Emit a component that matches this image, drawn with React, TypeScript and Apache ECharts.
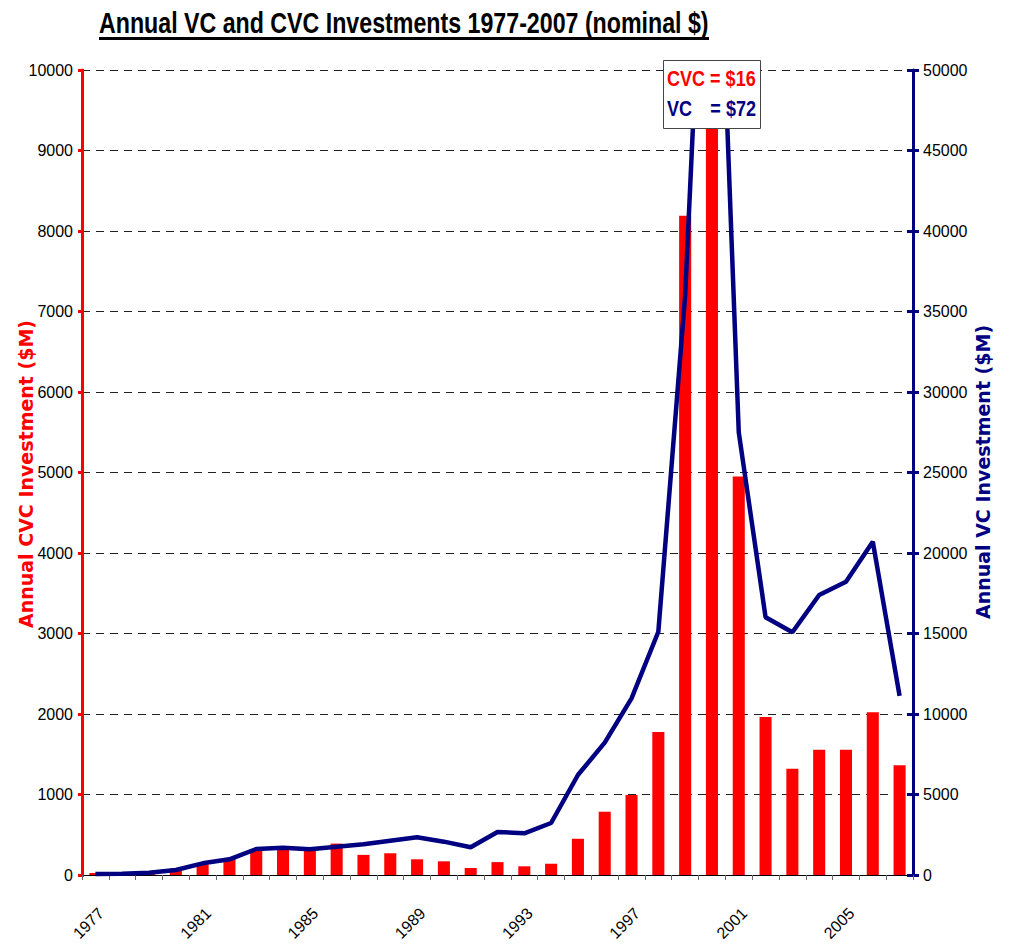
import React, { useEffect, useRef } from "react";
import * as echarts from "echarts";

const years = [
  "1977", "1978", "1979", "1980", "1981", "1982", "1983", "1984", "1985", "1986",
  "1987", "1988", "1989", "1990", "1991", "1992", "1993", "1994", "1995", "1996",
  "1997", "1998", "1999", "2000", "2001", "2002", "2003", "2004", "2005", "2006", "2007",
];

// Annual CVC investment ($M) – left axis
const cvcValues = [
  25, 20, 25, 80, 130, 200, 320, 330, 320, 390,
  250, 270, 195, 170, 87, 160, 108, 140, 450, 786,
  994, 1776, 8190, 16000, 4950, 1963, 1320, 1557, 1557, 2021, 1363,
];

// Annual VC investment ($M) – right axis
const vcValues = [
  60, 80, 140, 310, 725, 975, 1615, 1700, 1595, 1760,
  1905, 2130, 2340, 2070, 1720, 2670, 2590, 3230, 6210, 8220,
  10975, 15110, 36000, 72000, 27500, 16010, 15075, 17390, 18220, 20700, 11120,
];

const titleText = "Annual VC and CVC Investments 1977-2007 (nominal $)";
const leftAxisName = "Annual CVC Investment ($M)";
const rightAxisName = "Annual VC Investment ($M)";
const cvcNote = "CVC = $16";
const vcNoteLabel = "VC";
const vcNoteValue = "= $72";

const SANS = "'Liberation Sans', Arial, sans-serif";
const RED = "#ff0000";
const NAVY = "#000080";

export default function App() {
  const ref = useRef<HTMLDivElement>(null);

  useEffect(() => {
    document.body.style.margin = "0";
    const chart = echarts.init(ref.current!, null, { renderer: "svg" });

    const labelStyle = {
      color: "#000",
      fontSize: 16,
      fontFamily: SANS,
      formatter: (v: any) => String(v),
    };

    const option: any = {
      animation: false,
      grid: { left: 82, right: 96, top: 70, bottom: 70, containLabel: false },
      xAxis: {
        type: "category",
        data: years,
        boundaryGap: true,
        axisLine: { show: true, lineStyle: { color: "#000", width: 1 } },
        axisTick: { show: true, interval: 0, length: 5, lineStyle: { color: "#666", width: 1 } },
        axisLabel: {
          color: "#000",
          fontSize: 16,
          fontFamily: SANS,
          interval: 3,
          rotate: 45,
          margin: 30,
          align: "right",
          verticalAlign: "top",
        },
        splitLine: { show: false },
      },
      yAxis: [
        {
          type: "value",
          min: 0,
          max: 10000,
          interval: 1000,
          position: "left",
          axisLine: { show: true, lineStyle: { color: RED, width: 3 } },
          axisTick: { show: true, length: 4, lineStyle: { color: RED, width: 3 } },
          axisLabel: { ...labelStyle, margin: 9 },
          splitLine: { show: true, lineStyle: { color: "#222", width: 1, type: [8, 6] } },
        },
        {
          type: "value",
          min: 0,
          max: 50000,
          interval: 5000,
          position: "right",
          axisLine: { show: true, lineStyle: { color: NAVY, width: 3 } },
          axisTick: { show: true, length: 6, lineStyle: { color: NAVY, width: 3 } },
          axisLabel: { ...labelStyle, margin: 10 },
          splitLine: { show: false },
        },
        {
          type: "value",
          min: 0,
          max: 10000,
          interval: 1000,
          position: "left",
          axisLine: { show: false },
          axisTick: { show: true, inside: true, length: 2, lineStyle: { color: RED, width: 3 } },
          axisLabel: { show: false },
          splitLine: { show: false },
        },
        {
          type: "value",
          min: 0,
          max: 50000,
          interval: 5000,
          position: "right",
          axisLine: { show: false },
          axisTick: { show: true, inside: true, length: 6, lineStyle: { color: NAVY, width: 3 } },
          axisLabel: { show: false },
          splitLine: { show: false },
        },
      ],
      series: [
        {
          name: "CVC",
          type: "bar",
          yAxisIndex: 0,
          data: cvcValues,
          barWidth: "45%",
          itemStyle: { color: RED },
          z: 2,
        },
        {
          name: "VC",
          type: "line",
          yAxisIndex: 1,
          data: vcValues,
          symbol: "none",
          lineStyle: { color: NAVY, width: 4.5 },
          z: 3,
        },
      ],
      graphic: [
        {
          type: "text",
          x: 99,
          y: 23,
          scaleX: 0.8,
          style: {
            text: titleText,
            fontSize: 29,
            fontWeight: "bold",
            fontFamily: SANS,
            fill: "#000",
            align: "left",
            verticalAlign: "middle",
          },
        },
        {
          type: "rect",
          shape: { x: 99, y: 37, width: 610, height: 3 },
          style: { fill: "#000" },
        },
        {
          type: "text",
          x: 26,
          y: 474,
          rotation: Math.PI / 2,
          style: {
            text: leftAxisName,
            fontSize: 19,
            fontWeight: "bold",
            fontFamily: "'DejaVu Sans', sans-serif",
            fill: RED,
            align: "center",
            verticalAlign: "middle",
          },
        },
        {
          type: "text",
          x: 983,
          y: 472,
          rotation: Math.PI / 2,
          style: {
            text: rightAxisName,
            fontSize: 19,
            fontWeight: "bold",
            fontFamily: "'DejaVu Sans', sans-serif",
            fill: NAVY,
            align: "center",
            verticalAlign: "middle",
          },
        },
        {
          type: "group",
          z: 100,
          children: [
            {
              type: "rect",
              z: 100,
              shape: { x: 663.5, y: 60.5, width: 97, height: 68 },
              style: { fill: "#fff", stroke: "#444", lineWidth: 1 },
            },
            {
              type: "text",
              z: 101,
              x: 667,
              y: 78,
              scaleX: 0.82,
              style: {
                text: cvcNote,
                fontSize: 22,
                fontWeight: "bold",
                fontFamily: SANS,
                fill: RED,
                align: "left",
                verticalAlign: "middle",
              },
            },
            {
              type: "text",
              z: 101,
              x: 667,
              y: 108,
              scaleX: 0.82,
              style: {
                text: vcNoteLabel,
                fontSize: 22,
                fontWeight: "bold",
                fontFamily: SANS,
                fill: NAVY,
                align: "left",
                verticalAlign: "middle",
              },
            },
            {
              type: "text",
              z: 101,
              x: 756,
              y: 108,
              scaleX: 0.82,
              style: {
                text: vcNoteValue,
                fontSize: 22,
                fontWeight: "bold",
                fontFamily: SANS,
                fill: NAVY,
                align: "right",
                verticalAlign: "middle",
              },
            },
          ],
        },
      ],
    };

    chart.setOption(option);
    return () => chart.dispose();
  }, []);

  return <div ref={ref} style={{ width: 1009, height: 945 }} />;
}
